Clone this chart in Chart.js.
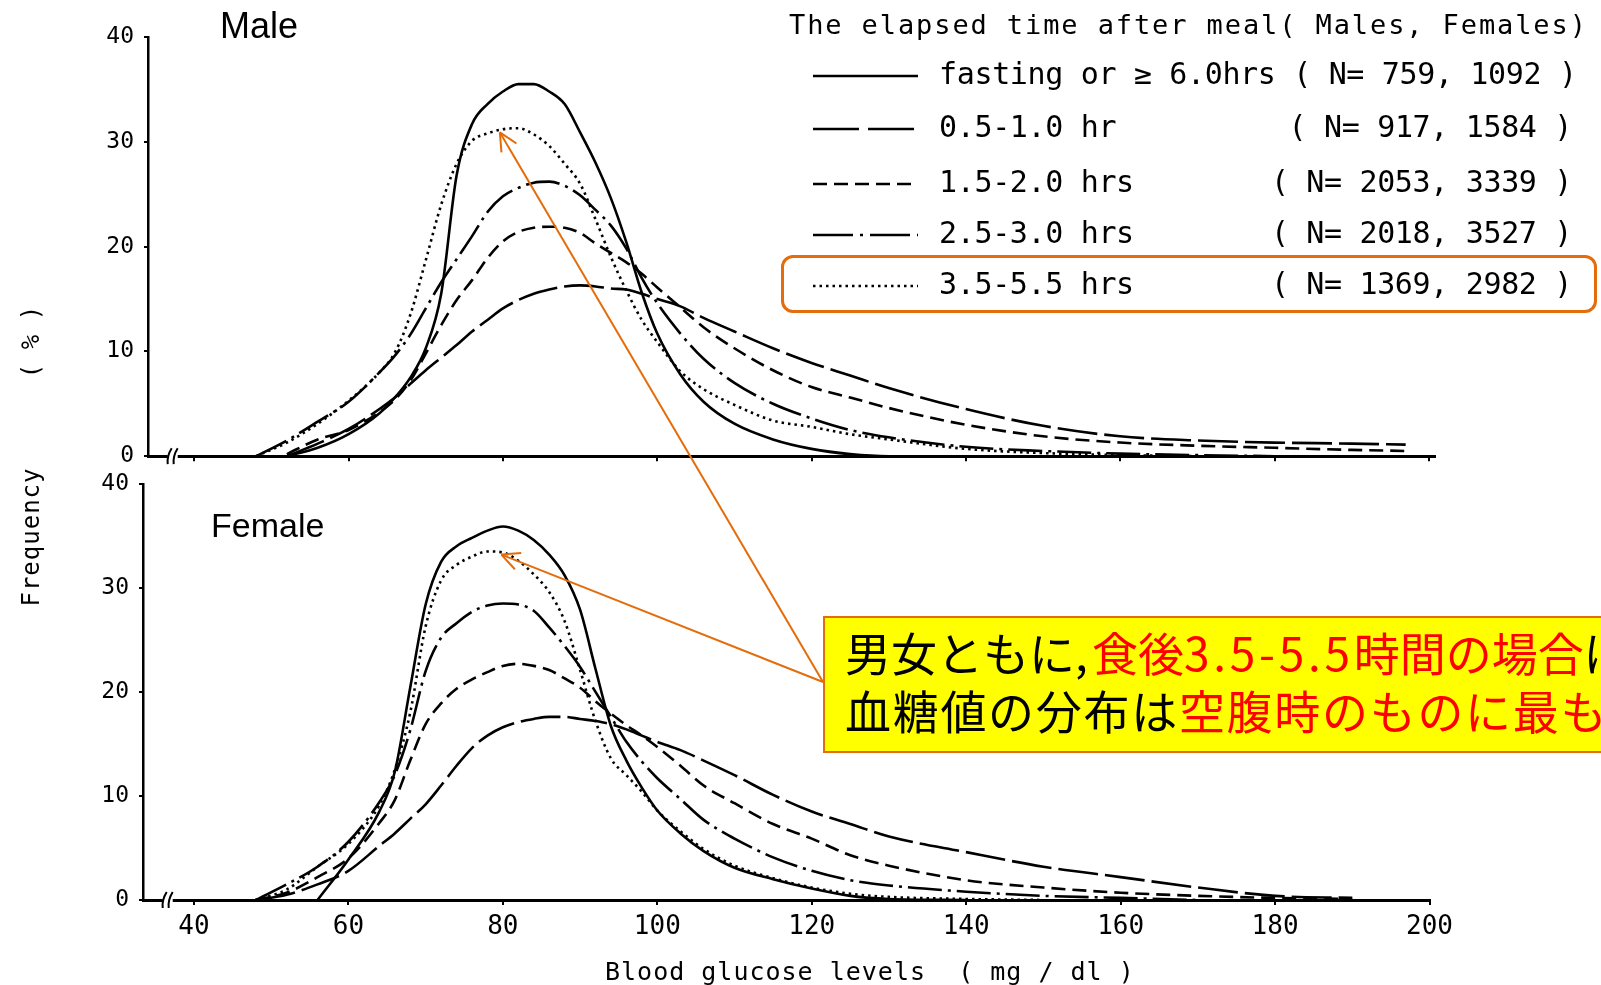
<!DOCTYPE html>
<html>
<head>
<meta charset="utf-8">
<title>Blood glucose distribution by time after meal</title>
<script src="https://cdn.jsdelivr.net/npm/chart.js@4.4.1/dist/chart.umd.min.js"></script>
<style>
  html, body { margin: 0; padding: 0; background: #fff; }
  body { position: relative; width: 1601px; height: 985px; overflow: hidden; color: #000;
         font-family: "DejaVu Sans Mono", monospace; }
  .abs { position: absolute; white-space: pre; }
  .panel { position: absolute; left: 0; width: 1460px; }
  #male { top: 0; height: 480px; }
  #female { top: 460px; height: 520px; }
  .sex { font-family: "Liberation Sans", Arial, sans-serif; line-height: 1; }
  #legendTitle { left: 789px; top: 8px; font-size: 27px; line-height: 34px; letter-spacing: 1.9px; }
  .row { font-size: 30px; line-height: 36px; letter-spacing: -0.35px; }
  #pick { left: 781px; top: 255px; width: 816px; height: 58px; box-sizing: border-box;
          border: 3.5px solid #E46C0A; border-radius: 12px; }
  .vt { position: absolute; transform: translate(-50%, -50%) rotate(-90deg); white-space: pre;
        font-size: 24px; line-height: 1; }
  #xTitle { left: 605px; top: 957px; font-size: 25px; line-height: 30px; letter-spacing: 1px; }
  #note { left: 823px; top: 616px; width: 820px; height: 137px; box-sizing: border-box;
          background: #FFFF00; border: 2px solid #E46C0A; padding: 4px 0 0 20px;
          font-family: "Noto Sans CJK JP", sans-serif; font-size: 46px; line-height: 58px; }
  .red { color: #FF0000; }
  .num { letter-spacing: 3.7px; }
  #arrows { position: absolute; left: 0; top: 0; }
</style>
</head>
<body>
<div id="male" class="panel"><canvas id="maleChart"></canvas></div>
<div id="female" class="panel"><canvas id="femaleChart"></canvas></div>

<div class="abs sex" style="left:220px; top:8px; font-size:36px;">Male</div>
<div class="abs sex" style="left:211px; top:508px; font-size:34px;">Female</div>

<div id="legendTitle" class="abs">The elapsed time after meal( Males, Females)</div>
<div id="legend"></div>
<div id="pick" class="abs"></div>

<div class="vt" style="left:31px; top:342px;">( % )</div>
<div class="vt" style="left:31px; top:537px; letter-spacing:1px;">Frequency</div>
<div id="xTitle" class="abs">Blood glucose levels  ( mg / dl )</div>

<svg id="arrows" width="1601" height="985"></svg>

<div id="note" class="abs"><div>男女ともに, <span class="red" style="margin-left:-6px">食後<span class="num">3.5-5.5</span>時間の場合</span>は</div><div style="letter-spacing:1.7px">血糖値の分布は<span class="red">空腹時のものに最も近い</span></div></div>

<script>
// blood glucose (mg/dl) where the curves were read
var glucose = [48, 52, 56, 60, 64, 66, 68, 70, 72, 74, 76, 78, 80, 82, 84, 86, 88, 90, 92, 94,
               96, 98, 100, 103, 106, 110, 115, 120, 125, 130, 140, 150, 160, 170, 180, 190, 197];

var seriesNames = ["fasting or \u2265 6.0hrs", "0.5-1.0 hr", "1.5-2.0 hrs", "2.5-3.0 hrs", "3.5-5.5 hrs"];
var nMale   = [759, 917, 2053, 2018, 1369];
var nFemale = [1092, 1584, 3339, 3527, 2982];

// frequency (%) - males
var maleFasting = [null, 0, 0.8, 2.1, 4.1, 5.6, 7.5, 10.3, 15.5, 26.8, 31.7, 33.6, 34.8, 35.5, 35.5, 34.8, 33.6, 30.9, 28.0, 24.6,
                   20.4, 15.6, 11.7, 7.8, 5.2, 3.1, 1.6, 0.7, 0.2, 0, 0, null, null, null, null, null, null];
var maleH05 = [null, 0, 1.2, 2.6, 4.5, 5.6, 6.9, 8.2, 9.4, 10.6, 11.9, 13.0, 14.1, 14.9, 15.5, 15.9, 16.2, 16.3, 16.2, 16.0,
               15.9, 15.5, 15.0, 14.3, 13.2, 11.9, 10.3, 8.9, 7.7, 6.5, 4.5, 2.9, 1.9, 1.5, 1.3, 1.2, 1.1];
var maleH15 = [null, 0.2, 1.6, 2.5, 4.2, 5.4, 7.2, 9.8, 12.5, 14.9, 16.8, 18.9, 20.5, 21.4, 21.8, 21.9, 21.8, 21.3, 20.3, 19.4,
               18.5, 17.4, 16.1, 14.2, 12.3, 10.3, 8.2, 6.6, 5.6, 4.6, 3.0, 1.9, 1.3, 1.0, 0.8, 0.6, 0.5];
var maleH25 = [0, 1.5, 3.3, 5.2, 8.0, 9.6, 11.6, 14.1, 16.6, 18.8, 21.0, 23.3, 24.8, 25.6, 26.1, 26.2, 25.8, 24.9, 23.5, 22.0,
               19.8, 17.0, 14.6, 11.7, 9.3, 7.0, 5.0, 3.6, 2.5, 1.8, 0.9, 0.5, 0.25, 0.1, 0, null, null];
var maleH35 = [0, 1.3, 3.1, 5.3, 8.0, 9.9, 13.5, 18.7, 24.0, 27.9, 30.1, 30.8, 31.2, 31.3, 30.7, 29.6, 27.9, 26.0, 22.6, 19.0,
               15.8, 13.0, 10.9, 8.1, 6.4, 4.9, 3.4, 2.8, 2.1, 1.6, 0.7, 0.3, 0.1, 0, null, null, null];

// frequency (%) - females
var femaleFasting = [null, null, 0, 3.9, 8.5, 12.3, 20.4, 28.4, 32.5, 34.0, 34.8, 35.5, 35.9, 35.5, 34.6, 33.2, 31.2, 27.9, 22.2, 16.7,
                     13.4, 10.8, 8.6, 6.4, 4.7, 3.1, 2.0, 1.1, 0.4, 0.1, 0, null, null, null, null, null, null];
var femaleH05 = [0, 0.5, 1.5, 2.8, 5.2, 6.4, 7.8, 9.2, 11.0, 12.9, 14.6, 15.8, 16.6, 17.1, 17.4, 17.6, 17.6, 17.4, 17.2, 16.9,
                 16.4, 15.8, 15.2, 14.4, 13.4, 12.0, 10.1, 8.5, 7.3, 6.1, 4.6, 3.2, 2.2, 1.2, 0.4, 0.2, null];
var femaleH15 = [0, 0.7, 2.2, 4.0, 7.4, 9.6, 13.4, 16.9, 18.9, 20.3, 21.2, 21.9, 22.5, 22.7, 22.5, 22.1, 21.3, 20.4, 19.1, 17.9,
                 16.8, 15.8, 14.7, 12.9, 11.0, 9.3, 7.3, 5.9, 4.3, 3.3, 1.9, 1.2, 0.7, 0.4, 0.2, 0.1, null];
var femaleH25 = [0, 1.5, 3.2, 5.6, 9.4, 12.0, 16.3, 22.0, 25.2, 26.6, 27.7, 28.3, 28.5, 28.4, 27.8, 26.2, 24.4, 22.4, 20.0, 17.6,
                 15.2, 13.3, 11.7, 9.7, 7.7, 5.9, 4.1, 2.8, 1.9, 1.4, 0.8, 0.4, 0.2, 0, null, null, null];
var femaleH35 = [0, 1.0, 3.2, 5.4, 9.1, 12.5, 18.0, 26.3, 30.7, 32.2, 33.0, 33.5, 33.4, 32.6, 31.3, 29.6, 26.8, 22.1, 17.2, 13.6,
                 12.0, 10.4, 8.6, 6.6, 4.9, 3.3, 2.1, 1.2, 0.6, 0.3, 0.1, 0, null, null, null, null, null];

var xTicks = [40, 60, 80, 100, 120, 140, 160, 180, 200];
var yTicks = [0, 10, 20, 30, 40];

// where the callout arrows point (glucose, %)
var arrowTips = { male: [79.6, 30.9], female: [79.8, 33.2] };

// line styles, one per series
var dashPatterns = [[], [40, 7], [14, 7], [34, 6, 3, 6], [2.5, 4]];
var legendDash = [[], [46, 9], [14, 7], [40, 7, 3, 7], [2.5, 4]];
var legendRowY = [74, 127, 182, 233, 284];

// the "//" axis break near the origin
var axisBreak = {
  id: "axisBreak",
  afterDraw: function (chart, args, opts) {
    var ctx = chart.ctx;
    var x = chart.scales.x.getPixelForValue(opts.at);
    var y = chart.scales.y.getPixelForValue(0);
    ctx.save();
    ctx.fillStyle = "#fff";
    ctx.fillRect(x - 5, y - 3, 10, 6);
    ctx.strokeStyle = "#000";
    ctx.lineWidth = 2;
    [-3, 3].forEach(function (dx) {
      ctx.beginPath();
      ctx.moveTo(x + dx - 2, y + 8);
      ctx.quadraticCurveTo(x + dx - 3, y, x + dx + 2, y - 8);
      ctx.stroke();
    });
    ctx.restore();
  }
};

function panelConfig(curves, xMin, xMax, showXLabels, padTop, padRight, yWidth, xHeight, breakAt) {
  return {
    type: "line",
    data: {
      datasets: curves.map(function (vals, i) {
        return {
          label: seriesNames[i],
          data: glucose.map(function (g, j) { return { x: g, y: vals[j] }; }),
          borderColor: "#000",
          borderWidth: 2.6,
          borderDash: dashPatterns[i],
          borderCapStyle: "butt",
          pointRadius: 0,
          cubicInterpolationMode: "monotone",
          fill: false,
          spanGaps: false
        };
      })
    },
    options: {
      responsive: true,
      maintainAspectRatio: false,
      animation: false,
      layout: { padding: { top: padTop, right: padRight, left: 0, bottom: 0 } },
      plugins: {
        legend: { display: false },
        tooltip: { enabled: false },
        axisBreak: { at: breakAt }
      },
      scales: {
        x: {
          type: "linear", min: xMin, max: xMax,
          afterBuildTicks: function (s) { s.ticks = xTicks.map(function (v) { return { value: v }; }); },
          afterFit: function (s) { s.height = xHeight; },
          grid: { drawOnChartArea: false, drawTicks: true, tickLength: 5, color: "#000", lineWidth: 2 },
          border: { color: "#000", width: 3 },
          ticks: { display: showXLabels, color: "#000", padding: 7, maxRotation: 0, autoSkip: false,
                   font: { family: "DejaVu Sans Mono", size: 26 } }
        },
        y: {
          min: 0, max: 40,
          afterBuildTicks: function (s) { s.ticks = yTicks.map(function (v) { return { value: v }; }); },
          afterFit: function (s) { s.width = yWidth; },
          grid: { drawOnChartArea: false, drawTicks: true, tickLength: 4, color: "#000", lineWidth: 2 },
          border: { color: "#000", width: 2.5 },
          ticks: { color: "#000", padding: 10, font: { family: "DejaVu Sans Mono", size: 23 } }
        }
      }
    },
    plugins: [axisBreak]
  };
}

var maleChart = new Chart("maleChart", panelConfig(
  [maleFasting, maleH05, maleH15, maleH25, maleH35], 34.0, 200.8, false, 37, 25, 148, 20, 37.2));
var femaleChart = new Chart("femaleChart", panelConfig(
  [femaleFasting, femaleH05, femaleH15, femaleH25, femaleH35], 33.4, 200, true, 22, 30, 143, 80, 36.6));

// legend
var legend = document.getElementById("legend");
seriesNames.forEach(function (name, i) {
  var cy = legendRowY[i];
  var html = '<svg class="abs" style="left:813px; top:' + (cy - 3) + 'px" width="105" height="10">' +
    '<line x1="0" y1="5" x2="105" y2="5" stroke="#000" stroke-width="2.6" stroke-dasharray="' +
    (legendDash[i].length ? legendDash[i].join(" ") : "none") + '"/></svg>';
  var nText = "( N= " + nMale[i] + ", " + nFemale[i] + " )";
  if (i === 0) {
    html += '<div class="abs row" style="left:939px; top:' + (cy - 18) + 'px">' + name + " " + nText + "</div>";
  } else {
    html += '<div class="abs row" style="left:939px; top:' + (cy - 18) + 'px">' + name + "</div>";
    html += '<div class="abs row" style="right:29px; top:' + (cy - 18) + 'px">' + nText + "</div>";
  }
  legend.insertAdjacentHTML("beforeend", html);
});

// callout arrows from the note box to the 3.5-5.5 hrs peaks
function drawArrows() {
  var svg = document.getElementById("arrows");
  var box = document.getElementById("note").getBoundingClientRect();
  var tail = [box.left, box.top + 66];
  var out = "";
  [[maleChart, arrowTips.male], [femaleChart, arrowTips.female]].forEach(function (pair) {
    var c = pair[0], p = pair[1];
    var r = c.canvas.getBoundingClientRect();
    var tx = r.left + c.scales.x.getPixelForValue(p[0]);
    var ty = r.top + c.scales.y.getPixelForValue(p[1]);
    var ang = Math.atan2(tail[1] - ty, tail[0] - tx);
    out += '<line x1="' + tail[0] + '" y1="' + tail[1] + '" x2="' + tx + '" y2="' + ty + '" stroke="#E46C0A" stroke-width="2"/>';
    [-0.45, 0.45].forEach(function (d) {
      out += '<line x1="' + tx + '" y1="' + ty + '" x2="' + (tx + 20 * Math.cos(ang + d)) + '" y2="' +
        (ty + 20 * Math.sin(ang + d)) + '" stroke="#E46C0A" stroke-width="2"/>';
    });
  });
  svg.innerHTML = out;
}
drawArrows();
</script>
</body>
</html>
